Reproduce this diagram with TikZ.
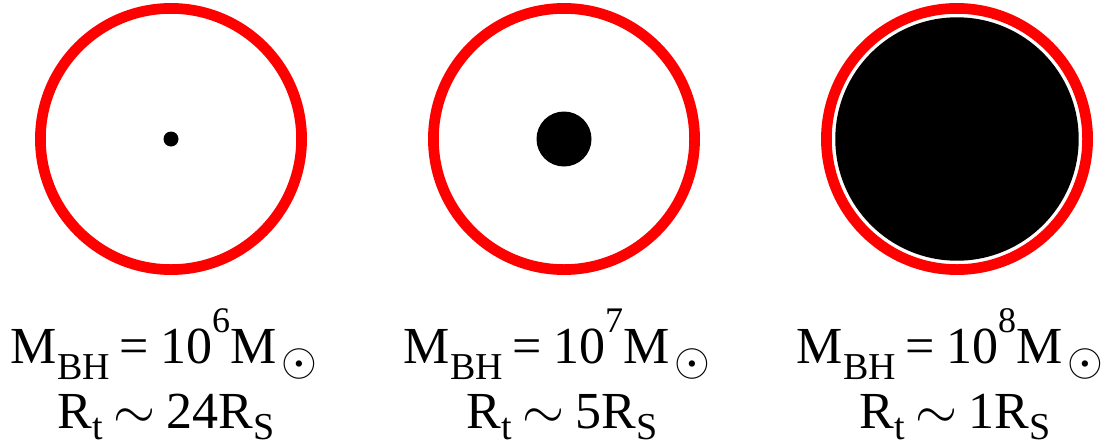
\documentclass[tikz,border=0pt]{standalone}
\usepackage{fix-cm}
\usepackage{fontspec}
\setmainfont{Liberation Serif}
\newcommand\lsub[1]{\raisebox{-16pt}{\fontsize{38}{38}\selectfont #1}}
\newcommand\lsubb[1]{\raisebox{-11pt}{\fontsize{38}{38}\selectfont #1}}
\newcommand\lsup[1]{\raisebox{31pt}{\fontsize{36}{36}\selectfont #1}}
\newcommand\sunsym{\raisebox{-12pt}{\fontsize{46}{46}\selectfont$\odot$}}
\newcommand\simsym{\raisebox{0pt}{\fontsize{54}{54}\selectfont$\sim$}}
\tikzset{
  ring/.style={draw=red, line width=10.7pt},
  hole/.style={fill=black},
  lab/.style={anchor=base, inner sep=0pt, font=\fontsize{52}{60}\selectfont}
}
\begin{document}
\begin{tikzpicture}[x=1pt,y=-1pt]
\useasboundingbox (0,0) rectangle (1112,445);
\fill[white] (0,0) rectangle (1112,445);
% circles
\draw[ring] (171,139) circle[radius=130.6];
\fill[hole] (171,139) circle[radius=7.5];
\draw[ring] (564,139) circle[radius=130.6];
\fill[hole] (564,139) circle[radius=27.5];
\draw[ring] (957,139) circle[radius=130.6];
\fill[hole] (957,139) circle[radius=121.7];
% labels
\node[lab] (m1) at (164,363) {M\lsub{BH}\hspace{10pt}=\hspace{11pt}10\lsup{6}M\hspace{5pt}\sunsym};
\node[lab] (r1) at (166,428) {R\lsubb{t}\hspace{11pt}\simsym\hspace{11pt}24R\lsubb{S}};
\node[lab] (m2) at (557,363) {M\lsub{BH}\hspace{10pt}=\hspace{11pt}10\lsup{7}M\hspace{5pt}\sunsym};
\node[lab] (r2) at (562,428) {R\lsubb{t}\hspace{11pt}\simsym\hspace{11pt}5R\lsubb{S}};
\node[lab] (m3) at (950,363) {M\lsub{BH}\hspace{10pt}=\hspace{11pt}10\lsup{8}M\hspace{5pt}\sunsym};
\node[lab] (r3) at (955,428) {R\lsubb{t}\hspace{11pt}\simsym\hspace{11pt}1R\lsubb{S}};
\end{tikzpicture}
\end{document}
